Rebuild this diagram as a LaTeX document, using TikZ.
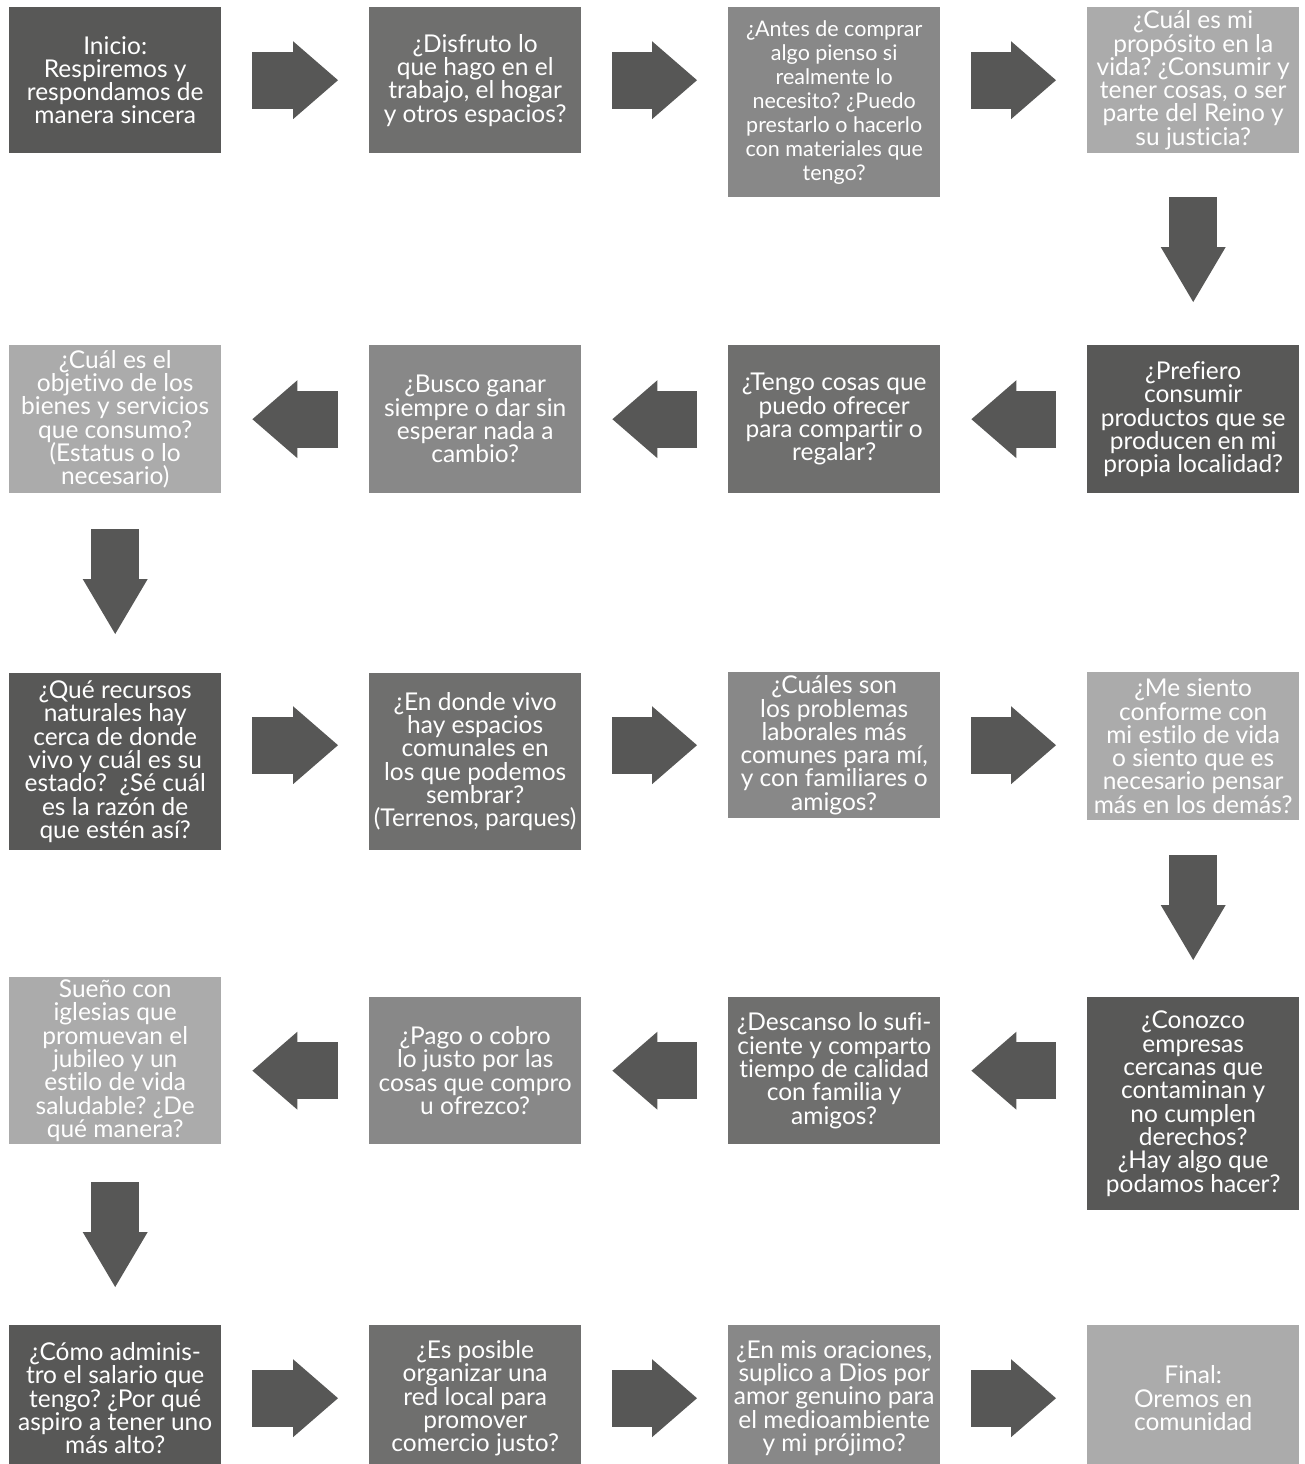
\documentclass[tikz,border=0pt]{standalone}
\usepackage{fontspec}
\setmainfont{Lato}[Ligatures={NoCommon}]
\usetikzlibrary{arrows.meta, calc}
\definecolor{shadeA}{HTML}{585857}
\definecolor{shadeB}{HTML}{6F6F6E}
\definecolor{shadeC}{HTML}{888888}
\definecolor{shadeD}{HTML}{ABABAB}
\definecolor{arrowgray}{HTML}{575756}
\frenchspacing

\begin{document}
\begin{tikzpicture}[x=1pt, y=-1pt,
    box/.style={rectangle, anchor=north west, minimum width=212, inner sep=0pt,
        text=white, align=center, font=\fontsize{24.5}{23.3}\selectfont},
    harrow/.style={draw=arrowgray, line width=57pt,
        -{Triangle[width=78pt, length=45pt, line width=0pt]},
        shorten <=31pt, shorten >=31pt},
    varrow/.style={draw=arrowgray, line width=48pt,
        -{Triangle[width=65pt, length=55pt, line width=0pt]},
        shorten <=40pt, shorten >=40pt}]
    % Define column positions
    \def\colA{9}
    \def\colB{369}
    \def\colC{728}
    \def\colD{1087}

    \useasboundingbox (0,0) rectangle (1304,1464);

    % Row 1 (left to right)
    \node[box, fill=shadeA, minimum height=146] (p1) at (\colA,7) {Inicio:\\Respiremos y\\respondamos de\\manera sincera};
    \node[box, fill=shadeB, minimum height=146] (p2) at (\colB,7) {¿Disfruto lo\\que hago en el\\trabajo, el hogar\\y otros espacios?};
    \node[box, fill=shadeC, minimum height=190, font=\fontsize{21.5}{24}\selectfont] (p3) at (\colC,7) {¿Antes de comprar\\algo pienso si\\realmente lo\\necesito? ¿Puedo\\prestarlo o hacerlo\\con materiales que\\tengo?};
    \node[box, fill=shadeD, minimum height=146] (p4) at (\colD,7) {¿Cuál es mi\\propósito en la\\vida? ¿Consumir y\\tener cosas, o ser\\parte del Reino y\\su justicia?};

    % Row 2 (right to left)
    \node[box, fill=shadeA, minimum height=148] (p5) at (\colD,345) {¿Prefiero\\consumir\\productos que se\\producen en mi\\propia localidad?};
    \node[box, fill=shadeB, minimum height=148] (p6) at (\colC,345) {¿Tengo cosas que\\puedo ofrecer\\para compartir o\\regalar?};
    \node[box, fill=shadeC, minimum height=148] (p7) at (\colB,345) {¿Busco ganar\\siempre o dar sin\\esperar nada a\\cambio?};
    \node[box, fill=shadeD, minimum height=148] (p8) at (\colA,345) {¿Cuál es el\\objetivo de los\\bienes y servicios\\que consumo?\\(Estatus o lo\\necesario)};

    % Row 3 (left to right)
    \node[box, fill=shadeA, minimum height=177] (p9) at (\colA,673) {¿Qué recursos\\naturales hay\\cerca de donde\\vivo y cuál es su\\estado?\ \ ¿Sé cuál\\es la razón de\\que estén así?};
    \node[box, fill=shadeB, minimum height=177] (p10) at (\colB,673) {¿En donde vivo\\hay espacios\\comunales en\\los que podemos\\sembrar?\\(Terrenos, parques)};
    \node[box, fill=shadeC, minimum height=146] (p11) at (\colC,672) {¿Cuáles son\\los problemas\\laborales más\\comunes para mí,\\y con familiares o\\amigos?};
    \node[box, fill=shadeD, minimum height=148] (p12) at (\colD,672) {¿Me siento\\conforme con\\mi estilo de vida\\o siento que es\\necesario pensar\\más en los demás?};

    % Row 4 (right to left)
    \node[box, fill=shadeA, minimum height=213] (p13) at (\colD,997) {¿Conozco\\empresas\\cercanas que\\contaminan y\\no cumplen\\derechos?\\¿Hay algo que\\podamos hacer?};
    \node[box, fill=shadeB, minimum height=147] (p14) at (\colC,997) {¿Descanso lo sufi-\\ciente y comparto\\tiempo de calidad\\con familia y\\amigos?};
    \node[box, fill=shadeC, minimum height=147] (p15) at (\colB,997) {¿Pago o cobro\\lo justo por las\\cosas que compro\\u ofrezco?};
    \node[box, fill=shadeD, minimum height=167] (p16) at (\colA,977) {Sueño con\\iglesias que\\promuevan el\\jubileo y un\\estilo de vida\\saludable? ¿De\\qué manera?};

    % Row 5 (left to right)
    \node[box, fill=shadeA, minimum height=146] (p17) at (\colA,1325) {¿Cómo adminis-\\tro el salario que\\tengo? ¿Por qué\\aspiro a tener uno\\más alto?};
    \node[box, fill=shadeB, minimum height=146] (p18) at (\colB,1325) {¿Es posible\\organizar una\\red local para\\promover\\comercio justo?};
    \node[box, fill=shadeC, minimum height=146] (p19) at (\colC,1325) {¿En mis oraciones,\\suplico a Dios por\\amor genuino para\\el medioambiente\\y mi prójimo?};
    \node[box, fill=shadeD, minimum height=146] (p20) at (\colD,1325) {Final:\\Oremos en\\comunidad};

    % Horizontal arrows
    \draw[harrow] (p1.east) -- (p2.west);
    \draw[harrow] (p2.east) -- (p3.west |- p2);
    \draw[harrow] (p3.east |- p4) -- (p4.west);
    \draw[harrow] (p5.west) -- (p6.east);
    \draw[harrow] (p6.west) -- (p7.east);
    \draw[harrow] (p7.west) -- (p8.east);
    \draw[harrow] (p9.east |- p11) -- (p10.west |- p11);
    \draw[harrow] (p10.east |- p11) -- (p11.west);
    \draw[harrow] (p11.east) -- (p12.west |- p11);
    \draw[harrow] (p13.west |- p14) -- (p14.east);
    \draw[harrow] (p14.west) -- (p15.east);
    \draw[harrow] (p15.west) -- (p16.east |- p15);
    \draw[harrow] (p17.east) -- (p18.west);
    \draw[harrow] (p18.east) -- (p19.west);
    \draw[harrow] (p19.east) -- (p20.west);

    % Arrows down to the next row
    \draw[varrow, shorten <=44pt, shorten >=43pt] (p4.south) -- (p5.north);
    \draw[varrow, shorten <=36pt, shorten >=39pt] (p8.south) -- (p9.north);
    \draw[varrow, shorten <=35pt, shorten >=37pt] (p12.south) -- (p13.north);
    \draw[varrow, shorten <=38pt, shorten >=38pt] (p16.south) -- (p17.north);
\end{tikzpicture}
\end{document}
